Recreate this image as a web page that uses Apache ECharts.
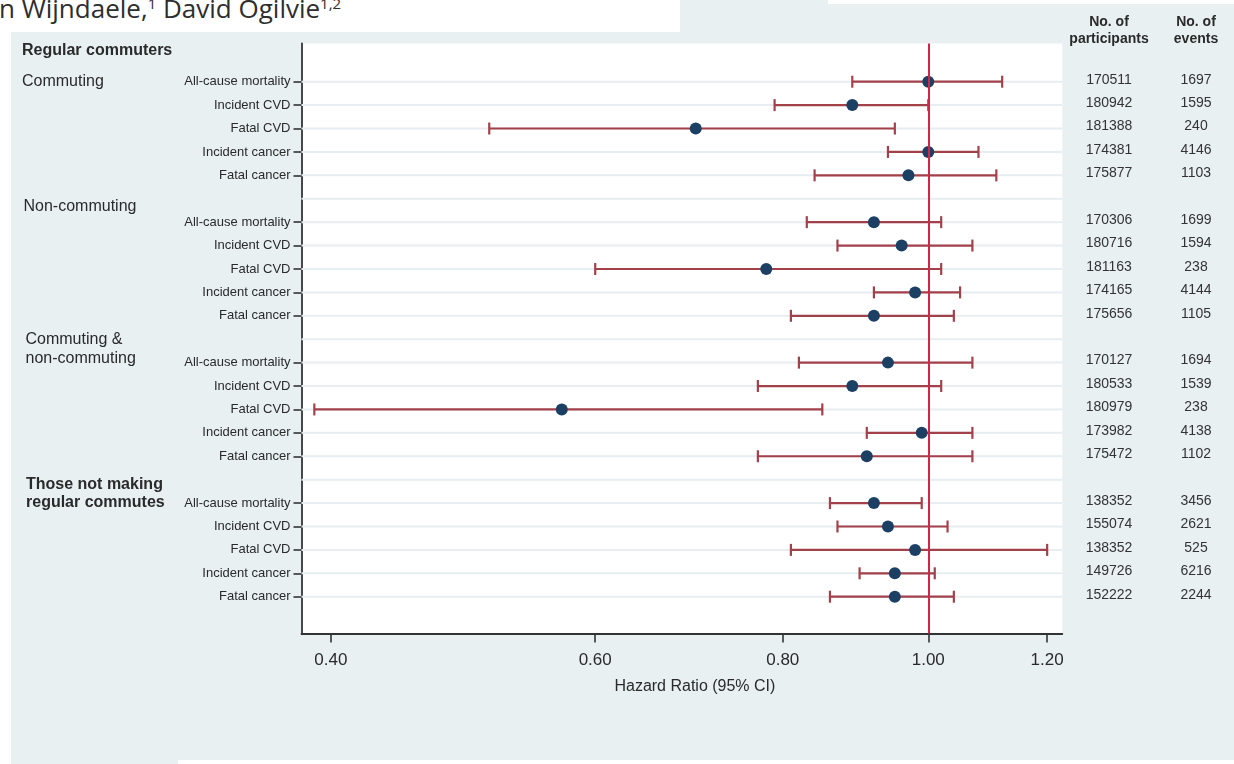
<!DOCTYPE html>
<html>
<head>
<meta charset="utf-8">
<script src="https://cdn.jsdelivr.net/npm/echarts@6/dist/echarts.min.js"></script>
<style>
html,body{margin:0;padding:0;background:#fff;}
#wrap{position:relative;width:1234px;height:764px;overflow:hidden;background:#fff;}
.bg{position:absolute;background:#e8f0f2;}
.wh{position:absolute;background:#fff;}
#author{position:absolute;left:-1px;top:-4px;font-family:'Open Sans',sans-serif;font-size:26px;line-height:25px;color:#2e2e2e;white-space:nowrap;}
#author sup{font-size:15px;line-height:0;vertical-align:9px;color:#2e2e2e;}
#chart{position:absolute;left:0;top:0;width:1234px;height:764px;}
</style>
</head>
<body>
<div id="wrap">
  <div class="bg" style="left:11px;top:0;width:1223px;height:760px;"></div>
  <div class="bg" style="left:11px;top:760px;width:167px;height:4px;"></div>
  <div class="wh" style="left:0;top:0;width:680px;height:32px;"></div>
  <div class="wh" style="left:828px;top:0;width:406px;height:4px;"></div>
  <div id="author">n Wijndaele,<sup>1</sup> David Ogilvie<sup>1,2</sup></div>
  <div id="chart"></div>
</div>
<script>
// ---------- data ----------
const sectionHeader = 'Regular commuters';
const groupLabels = ['Commuting', 'Non-commuting', 'Commuting &\nnon-commuting', 'Those not making\nregular commutes'];
const outcomes = ['All-cause mortality', 'Incident CVD', 'Fatal CVD', 'Incident cancer', 'Fatal cancer'];
const hazardRatio = [1.00, 0.89, 0.70, 1.00, 0.97,
                     0.92, 0.96, 0.78, 0.98, 0.92,
                     0.94, 0.89, 0.57, 0.99, 0.91,
                     0.92, 0.94, 0.98, 0.95, 0.95];
const ciLower = [0.89, 0.79, 0.51, 0.94, 0.84,
                 0.83, 0.87, 0.60, 0.92, 0.81,
                 0.82, 0.77, 0.39, 0.91, 0.77,
                 0.86, 0.87, 0.81, 0.90, 0.86];
const ciUpper = [1.12, 1.00, 0.95, 1.08, 1.11,
                 1.02, 1.07, 1.02, 1.05, 1.04,
                 1.07, 1.02, 0.85, 1.07, 1.07,
                 0.99, 1.03, 1.20, 1.01, 1.04];
const participants = [170511, 180942, 181388, 174381, 175877,
                      170306, 180716, 181163, 174165, 175656,
                      170127, 180533, 180979, 173982, 175472,
                      138352, 155074, 138352, 149726, 152222];
const events = [1697, 1595, 240, 4146, 1103,
                1699, 1594, 238, 4144, 1105,
                1694, 1539, 238, 4138, 1102,
                3456, 2621, 525, 6216, 2244];
const xTickValues = [0.40, 0.60, 0.80, 1.00, 1.20];
const refValue = 1.00;
const colHeaders = ['No. of\nparticipants', 'No. of\nevents'];
const axisTitle = 'Hazard Ratio (95% CI)';

// ---------- layout ----------
const perGroup = outcomes.length;
const rowOf = i => Math.floor(i / perGroup) * (perGroup + 1) + (i % perGroup);
const rows = hazardRatio.map((_, i) => rowOf(i));
const lastRow = rows[rows.length - 1];
const allRows = Array.from({length: lastRow + 1}, (_, r) => r);
const xMin = Math.log(0.3824), xMax = Math.log(1.2282);
const yMin = -1.632, yMax = 23.571;
const font = "'Liberation Sans', Arial, sans-serif";
const txt = '#2a2a2a';
const ciColor = '#a3414b';
const dotColor = '#1c3f64';
const refColor = '#d5234b';

const chart = echarts.init(document.getElementById('chart'), null, {renderer: 'canvas'});

const option = {
  backgroundColor: 'transparent',
  animation: false,
  grid: {left: 301.5, right: 171.7, top: 43.5, bottom: 130.5, show: true, backgroundColor: '#ffffff', borderWidth: 0},
  xAxis: {
    type: 'value', min: xMin, max: xMax,
    axisLine: {show: true, onZero: false, lineStyle: {color: '#333', width: 1.8}},
    axisTick: {show: true, length: 9, customValues: xTickValues.map(Math.log), lineStyle: {color: '#333', width: 1.6}},
    axisLabel: {customValues: xTickValues.map(Math.log), margin: 18, fontFamily: font, fontSize: 17, color: txt,
      formatter: v => Math.exp(v).toFixed(2)},
    splitLine: {show: false},
    name: axisTitle, nameLocation: 'middle', nameGap: 45,
    nameTextStyle: {fontFamily: font, fontSize: 16, color: txt, padding: [0, 0, 0, 26]}
  },
  yAxis: {
    type: 'value', inverse: true, min: yMin, max: yMax,
    axisLine: {show: true, onZero: false, lineStyle: {color: '#333', width: 1.8}},
    axisTick: {show: true, length: 8, customValues: rows, lineStyle: {color: '#333', width: 1.6}},
    axisLabel: {customValues: rows, margin: 11, fontFamily: font, fontSize: 13, color: txt,
      formatter: v => outcomes[Math.round(v) % (perGroup + 1)]},
    splitLine: {show: false}
  },
  series: [
    {
      type: 'custom', z: 1, silent: true,
      data: allRows.map(r => [r]),
      encode: {y: 0},
      renderItem: (params, api) => {
        const cs = params.coordSys;
        const y = api.coord([xMin, api.value(0)])[1];
        return {type: 'line', shape: {x1: cs.x, y1: y, x2: cs.x + cs.width, y2: y},
          style: {stroke: '#e6eef1', lineWidth: 2}};
      }
    },
    {
      type: 'custom', z: 2, silent: true,
      data: rows.map((r, i) => [r, Math.log(ciLower[i]), Math.log(ciUpper[i])]),
      encode: {y: 0, x: [1, 2]},
      renderItem: (params, api) => {
        const r = api.value(0);
        const p1 = api.coord([api.value(1), r]);
        const p2 = api.coord([api.value(2), r]);
        const h = 6;
        const st = {stroke: ciColor, lineWidth: 2.2};
        return {type: 'group', children: [
          {type: 'line', shape: {x1: p1[0], y1: p1[1], x2: p2[0], y2: p2[1]}, style: st},
          {type: 'line', shape: {x1: p1[0], y1: p1[1] - h, x2: p1[0], y2: p1[1] + h}, style: st},
          {type: 'line', shape: {x1: p2[0], y1: p2[1] - h, x2: p2[0], y2: p2[1] + h}, style: st}
        ]};
      }
    },
    {
      type: 'scatter', z: 3, silent: true, data: [],
      markLine: {
        silent: true, symbol: ['none', 'none'], label: {show: false},
        lineStyle: {color: refColor, width: 2, type: 'solid'},
        emphasis: {disabled: true},
        data: [{xAxis: Math.log(refValue)}]
      }
    },
    {
      type: 'scatter', z: 4, silent: true,
      symbol: 'circle', symbolSize: 12,
      itemStyle: {color: dotColor, opacity: 1},
      data: rows.map((r, i) => [Math.log(hazardRatio[i]), r])
    }
  ]
};
chart.setOption(option);

// ---------- text columns ----------
const yPx = r => chart.convertToPixel({yAxisIndex: 0}, r);
const groupLabelRow = [0, 5.34, 11.43, 17.6];
const groupLabelX = [22, 23.5, 25.5, 26];
const groupBold = [false, false, false, true];
const colX = [1109, 1196];
const g = [];
g.push({type: 'text', silent: true, style: {text: sectionHeader, x: 22, y: yPx(-1.32), verticalAlign: 'middle',
  fontFamily: font, fontSize: 16, fontWeight: 'bold', fill: txt}});
groupLabels.forEach((t, k) => {
  g.push({type: 'text', silent: true, style: {text: t, x: groupLabelX[k], y: yPx(groupLabelRow[k]), verticalAlign: 'middle',
    fontFamily: font, fontSize: 16, fontWeight: groupBold[k] ? 'bold' : 'normal', lineHeight: 18.7, fill: txt}});
});
colHeaders.forEach((t, k) => {
  g.push({type: 'text', silent: true, style: {text: t, x: colX[k], y: 30.5, align: 'center', verticalAlign: 'middle',
    fontFamily: font, fontSize: 14, fontWeight: 'bold', lineHeight: 17.6, fill: txt}});
});
rows.forEach((r, i) => {
  const y = yPx(r) - 2;
  g.push({type: 'text', silent: true, style: {text: String(participants[i]), x: colX[0], y: y, align: 'center', verticalAlign: 'middle',
    fontFamily: font, fontSize: 14, fill: '#333'}});
  g.push({type: 'text', silent: true, style: {text: String(events[i]), x: colX[1], y: y, align: 'center', verticalAlign: 'middle',
    fontFamily: font, fontSize: 14, fill: '#333'}});
});
chart.setOption({graphic: g});
</script>
</body>
</html>
